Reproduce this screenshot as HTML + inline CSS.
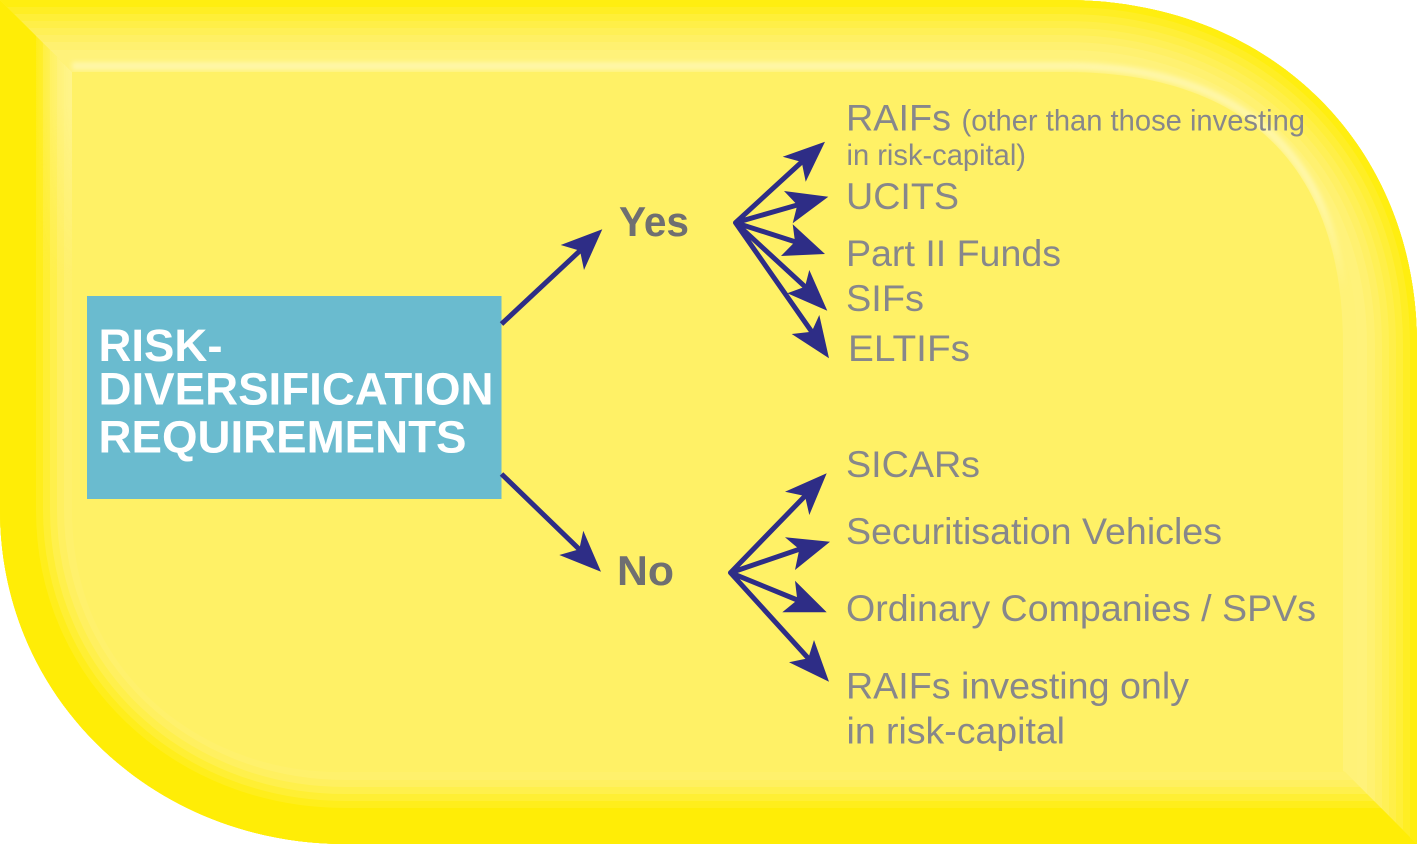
<!DOCTYPE html>
<html><head><meta charset="utf-8">
<style>
html,body{margin:0;padding:0;background:#fff;width:1417px;height:844px;overflow:hidden}
svg{display:block}
text{font-family:"Liberation Sans",Arial,sans-serif}
.g{fill:#87878b;font-size:37px}
.s{fill:#87878b;font-size:29.5px}
.b{fill:#fff;font-size:45.5px;font-weight:bold}
.y{fill:#6f6f71;font-size:42px;font-weight:bold}
.l{stroke:#2e2d86;stroke-width:5;fill:none}
.h{fill:#2e2d86}
</style></head><body>
<svg width="1417" height="844" viewBox="0 0 1417 844" xmlns="http://www.w3.org/2000/svg">
<defs>
<path id="o" d="M0 0H1065C1269 0 1417 144 1417 345V844H345C155 844 0 700 0 510Z"/>
<clipPath id="c"><use href="#o"/></clipPath>
<clipPath id="lt"><polygon points="0,0 1417,0 1417,844 1345,772 72,72"/></clipPath>
<clipPath id="dk"><polygon points="0,0 72,72 1345,772 1417,844 0,844"/></clipPath>
<linearGradient id="hl" gradientUnits="userSpaceOnUse" x1="1200" y1="60" x2="1345" y2="290">
<stop offset="0" stop-color="#fff7a8"/><stop offset=".65" stop-color="#fff7a8"/><stop offset="1" stop-color="#fff7a8" stop-opacity="0"/>
</linearGradient>
<linearGradient id="tl2" x1="0" y1="0" x2="1" y2="0">
<stop offset="0" stop-color="#fff48f" stop-opacity="0"/><stop offset="1" stop-color="#fff48f" stop-opacity=".9"/>
</linearGradient>
<linearGradient id="fade" x1="0" y1="0" x2="0" y2="1">
<stop offset="0" stop-color="#fff"/><stop offset=".3" stop-color="#fff"/><stop offset="1" stop-color="#000"/>
</linearGradient>
<mask id="m" maskUnits="userSpaceOnUse" x="0" y="0" width="100" height="300"><rect x="0" y="30" width="100" height="250" fill="url(#fade)"/></mask>
<filter id="bl" x="-5%" y="-20%" width="110%" height="140%"><feGaussianBlur stdDeviation="2.5"/></filter>
</defs>
<use href="#o" fill="#fff166"/>
<g clip-path="url(#c)" fill="none">
 <g clip-path="url(#lt)">
  <use href="#o" stroke="#fff278" stroke-width="160"/>
  <use href="#o" stroke="#fff27a" stroke-width="120"/>
  <use href="#o" stroke="#fff170" stroke-width="100"/>
  <use href="#o" stroke="#fff064" stroke-width="84"/>
  <use href="#o" stroke="#fff056" stroke-width="70"/>
  <use href="#o" stroke="#ffef48" stroke-width="56"/>
  <use href="#o" stroke="#ffef38" stroke-width="42"/>
  <use href="#o" stroke="#ffee24" stroke-width="28"/>
  <use href="#o" stroke="#ffee10" stroke-width="14"/>
 </g>
 <g clip-path="url(#dk)">
  <use href="#o" stroke="#fff16c" stroke-width="160"/>
  <use href="#o" stroke="#fff060" stroke-width="128"/>
  <use href="#o" stroke="#fff04c" stroke-width="114"/>
  <use href="#o" stroke="#ffef34" stroke-width="100"/>
  <use href="#o" stroke="#ffee1c" stroke-width="86"/>
  <use href="#o" stroke="#ffed06" stroke-width="72"/>
 </g>
 <path d="M72 66H1065C1240 66 1347 155 1347 345" stroke="url(#hl)" stroke-width="8" filter="url(#bl)"/>
</g>
<polygon points="36,36 73,73 73,280 36,280" fill="url(#tl2)" mask="url(#m)"/>
<path d="M72 72H1065C1240 72 1343 160 1343 345V772H345C210 775 72 680 72 510Z" fill="#fff166"/>

<rect x="87" y="296" width="414.5" height="203" fill="#6abbcf"/>
<text class="b" x="98.5" y="361" textLength="124" lengthAdjust="spacingAndGlyphs">RISK-</text>
<text class="b" x="98.5" y="404.5" textLength="395" lengthAdjust="spacingAndGlyphs">DIVERSIFICATION</text>
<text class="b" x="98.5" y="452.5" textLength="368" lengthAdjust="spacingAndGlyphs">REQUIREMENTS</text>

<text class="y" x="619" y="236" textLength="70" lengthAdjust="spacingAndGlyphs">Yes</text>
<text class="y" x="617" y="585" textLength="57" lengthAdjust="spacingAndGlyphs">No</text>

<text class="g" x="846" y="130.5" textLength="105" lengthAdjust="spacingAndGlyphs">RAIFs</text>
<text class="s" x="961.5" y="130.5" textLength="343.5" lengthAdjust="spacingAndGlyphs">(other than those investing</text>
<text class="s" x="846.5" y="165" textLength="179.5" lengthAdjust="spacingAndGlyphs">in risk-capital)</text>
<text class="g" x="846" y="209" textLength="113" lengthAdjust="spacingAndGlyphs">UCITS</text>
<text class="g" x="846" y="266" textLength="215" lengthAdjust="spacingAndGlyphs">Part II Funds</text>
<text class="g" x="846" y="311" textLength="78" lengthAdjust="spacingAndGlyphs">SIFs</text>
<text class="g" x="848" y="361" textLength="122" lengthAdjust="spacingAndGlyphs">ELTIFs</text>
<text class="g" x="846" y="477" textLength="134" lengthAdjust="spacingAndGlyphs">SICARs</text>
<text class="g" x="846" y="544" textLength="376" lengthAdjust="spacingAndGlyphs">Securitisation Vehicles</text>
<text class="g" x="846" y="621" textLength="470" lengthAdjust="spacingAndGlyphs">Ordinary Companies / SPVs</text>
<text class="g" x="846" y="698.5" textLength="343" lengthAdjust="spacingAndGlyphs">RAIFs investing only</text>
<text class="g" x="846.5" y="743.5" textLength="218.5" lengthAdjust="spacingAndGlyphs">in risk-capital</text>

<path class="l" d="M501.5 324L580 250.7"/>
<polygon class="h" points="602.3,229.3 560.7,245 580,250.7 584,270"/>
<path class="l" d="M501.5 474L579.3 549.3"/>
<polygon class="h" points="601,571.7 583.3,530.7 579.3,549.3 559.3,555"/>

<g stroke-linecap="round">
<path class="l" d="M735.5 222.7L801.7 162M735.5 222.7L797.3 205M735.5 222.7L795 241.7M735.5 222.7L805 286.7M735.5 222.7L811.7 331.7"/>
<path class="l" d="M730.5 572.7L805 496M730.5 572.7L799.3 549.3M730.5 572.7L797.3 600M730.5 572.7L808.3 658.3"/>
</g>
<polygon class="h" points="825,141.7 782.7,156.7 801.7,162 805.7,181.7"/>
<polygon class="h" points="828.3,196.7 784,191 797.3,205 792.7,223.3"/>
<polygon class="h" points="825,254 792.7,224.3 795,241.7 781,256"/>
<polygon class="h" points="827.3,310.7 809.3,270 805,286.7 787.3,293.3"/>
<polygon class="h" points="829,358.3 819.3,315 811.7,331.7 791.7,334"/>
<polygon class="h" points="826.7,473.3 785,491.7 805,496 809.3,515"/>
<polygon class="h" points="830,541.7 785,537.3 799.3,549.3 795,570"/>
<polygon class="h" points="826.7,612.3 795,580.7 797.3,600 782.3,612.3"/>
<polygon class="h" points="829,681.7 814,640 808.3,658.3 789,662.3"/>
</svg>
</body></html>
